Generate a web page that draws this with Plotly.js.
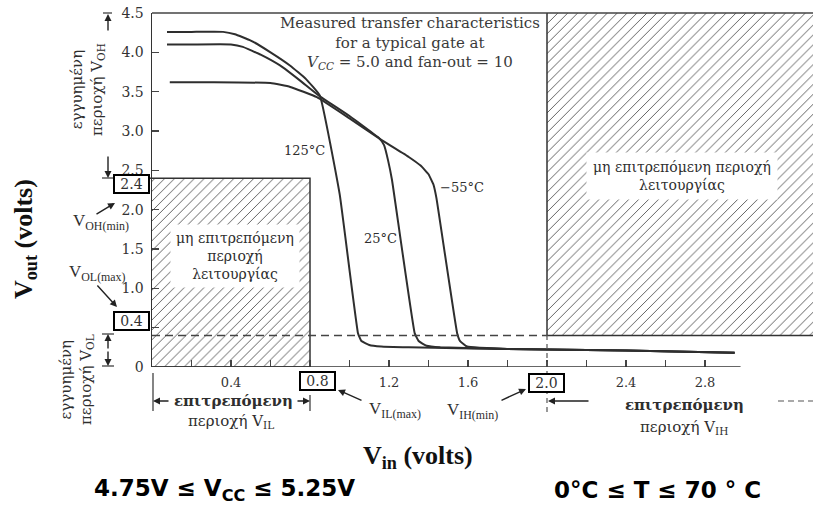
<!DOCTYPE html>
<html>
<head>
<meta charset="utf-8">
<script src="https://cdn.plot.ly/plotly-3.0.1.min.js"></script>
<style>html,body{margin:0;padding:0;background:#fff;}#chart{width:813px;height:510px;}</style>
</head>
<body>
<div id="chart"></div>
<script>
// ---- data ----
const vin125  = [0.076,0.20,0.36,0.42,0.50,0.60,0.70,0.78,0.85,0.95,1.043,1.06,1.10,1.16,1.30,1.80,2.40,2.95];
const vout125 = [4.26,4.26,4.26,4.23,4.15,4.00,3.83,3.66,3.45,2.20,0.43,0.33,0.28,0.26,0.25,0.23,0.21,0.18];
const vin25   = [0.076,0.20,0.40,0.46,0.55,0.65,0.75,0.85,1.00,1.15,1.175,1.195,1.215,1.33,1.35,1.39,1.46,1.80,2.40,2.95];
const vout25  = [4.10,4.10,4.10,4.07,3.97,3.83,3.64,3.44,3.19,2.91,2.82,2.63,2.38,0.43,0.33,0.27,0.25,0.23,0.21,0.18];
const vinM55  = [0.09,0.30,0.60,0.70,0.835,1.00,1.165,1.30,1.36,1.40,1.425,1.44,1.545,1.56,1.595,1.66,1.80,2.40,2.95];
const voutM55 = [3.62,3.62,3.61,3.56,3.43,3.16,2.88,2.67,2.56,2.45,2.32,2.15,0.43,0.33,0.26,0.245,0.23,0.21,0.18];
const curveNames = ['125°C','25°C','−55°C'];

// TTL specification levels
const VIL_MAX = 0.8, VIH_MIN = 2.0, VOL_MAX = 0.4, VOH_MIN = 2.4;
const VOUT_TOP = 4.5, VIN_RIGHT = 3.4;

// axis ticks
const yTickVals = [0,0.5,1.0,1.5,2.0,2.5,3.0,3.5,4.0,4.5];
const yTickText = ['0','','1.0','1.5','2.0','2.5','3.0','3.5','4.0','4.5'];
const xTickVals = [0.2,0.4,0.6,0.8,1.0,1.2,1.4,1.6,1.8,2.0,2.2,2.4,2.6,2.8];
const xTickText = ['','0.4','','','','1.2','','1.6','','','','2.4','','2.8'];

// ---- layout helpers (pixel -> paper) ----
const L = 152, T = 13, W = 661, H = 354;
const PX = p => (p - L) / W;
const PY = p => (T + H - p) / H;
const SERIF = 'DejaVu Serif', GR = 'DejaVu Serif', TIMES = 'Liberation Serif', INK = '#2e2e2e';

const hatch = {shape: '/', size: 7, solidity: 0.13, fgcolor: '#555', bgcolor: 'white', fillmode: 'replace'};

const traces = [
  {x: [0, VIL_MAX, VIL_MAX, 0], y: [VOH_MIN, VOH_MIN, 0, 0], type: 'scatter', mode: 'lines',
   fill: 'toself', fillcolor: 'white', fillpattern: hatch, line: {color: '#333', width: 1.5}, hoverinfo: 'skip'},
  {x: [VIH_MIN, VIH_MIN, VIN_RIGHT, VIN_RIGHT], y: [VOUT_TOP, VOL_MAX, VOL_MAX, VOUT_TOP], type: 'scatter', mode: 'lines',
   fill: 'toself', fillcolor: 'white', fillpattern: hatch, line: {color: '#333', width: 1.5}, hoverinfo: 'skip'},
  {x: vin125, y: vout125, name: curveNames[0], type: 'scatter', mode: 'lines', line: {color: INK, width: 2, shape: 'spline', smoothing: 0.3}},
  {x: vin25, y: vout25, name: curveNames[1], type: 'scatter', mode: 'lines', line: {color: INK, width: 2, shape: 'spline', smoothing: 0.3}},
  {x: vinM55, y: voutM55, name: curveNames[2], type: 'scatter', mode: 'lines', line: {color: INK, width: 2, shape: 'spline', smoothing: 0.3}}
];

const ann = [];
function txt(px, py, text, size, family, extra) {
  ann.push(Object.assign({xref: 'paper', yref: 'paper', x: PX(px), y: PY(py), text: text, showarrow: false,
    xanchor: 'center', yanchor: 'middle', font: {family: family || SERIF, size: size || 14, color: INK}}, extra || {}));
}
function arrow(tipx, tipy, tailx, taily, head) {
  ann.push({xref: 'paper', yref: 'paper', x: PX(tipx), y: PY(tipy), ax: tailx - tipx, ay: taily - tipy,
    axref: 'pixel', ayref: 'pixel', text: '', showarrow: true, arrowhead: head === undefined ? 2 : head,
    arrowsize: 1, arrowwidth: 1.4, arrowcolor: '#222'});
}
function box(px, py, text) {
  txt(px, py, text, 14, SERIF, {bgcolor: 'white', bordercolor: '#000', borderwidth: 2, borderpad: 1,
    width: 31, height: 14, align: 'center', valign: 'middle', font: {family: SERIF, size: 14, color: '#333'}});
}

// in-plot texts
txt(410, 43, 'Measured transfer characteristics<br>for a typical gate at<br><i>V<sub>CC</sub></i> = 5.0 and fan-out = 10', 15, SERIF, {font: {family: SERIF, size: 15, color: '#3a3a3a'}});
txt(304, 150, curveNames[0], 13);
txt(380, 238, curveNames[1], 13);
txt(462, 187, curveNames[2], 13);
txt(235, 256, 'μη επιτρεπόμενη<br>περιοχή<br>λειτουργίας', 14, GR, {bgcolor: 'white', borderpad: 5});
txt(682, 176, 'μη επιτρεπόμενη περιοχή<br>λειτουργίας', 14, GR, {bgcolor: 'white', borderpad: 6});

// boxed limit values
box(131, 184, '2.4');
box(131, 321, '0.4');
box(317, 381, '0.8');
box(546, 383, '2.0');

// pointer labels
txt(101, 222, 'V<sub>OH(min)</sub>', 17, TIMES);
arrow(115, 203, 95, 215);
txt(97, 273, 'V<sub>OL(max)</sub>', 17, TIMES);
arrow(117, 307, 96, 284);
txt(395, 410, 'V<sub>IL(max)</sub>', 17, TIMES);
arrow(338, 390, 363, 401);
txt(472, 411, 'V<sub>IH(min)</sub>', 17, TIMES);
arrow(526, 389, 500, 401);

// rotated guaranteed-region labels
txt(87, 90, 'εγγυημένη<br>περιοχή V<sub>OH</sub>', 15, GR, {textangle: -90});
txt(76, 380, 'εγγυημένη<br>περιοχή V<sub>OL</sub>', 15, GR, {textangle: -90});
arrow(108, 14, 108, 32);
arrow(108, 178, 108, 155);
arrow(108, 334, 108, 350);
arrow(108, 366, 108, 350);

// input ranges below the axis
txt(233, 401, '<b>επιτρεπόμενη</b>', 15, GR);
txt(231, 421, 'περιοχή V<sub>IL</sub>', 15, GR);
arrow(153, 401, 170, 401);
arrow(310, 401, 296, 401);
txt(684, 405, '<b>επιτρεπόμενη</b>', 15, GR);
txt(684, 428, 'περιοχή V<sub>IH</sub>', 15, GR);
arrow(548, 401, 590, 401);

// axis titles
txt(418, 457, '<b>V<sub>in</sub> (volts)</b>', 26, TIMES, {font: {family: TIMES, size: 26, color: '#111'}});
txt(25, 239, '<b>V<sub>out</sub> (volts)</b>', 26, TIMES, {textangle: -90, font: {family: TIMES, size: 26, color: '#111'}});

// operating conditions
txt(224, 490, '<b>4.75V ≤ V<sub>CC</sub> ≤ 5.25V</b>', 23, 'DejaVu Sans', {font: {family: 'DejaVu Sans', size: 23, color: '#000'}});
txt(657, 490, '<b>0°C ≤ T ≤ 70 ° C</b>', 23, 'DejaVu Sans', {font: {family: 'DejaVu Sans', size: 23, color: '#000'}});

const thin = {color: '#333', width: 1.2};
const shapes = [
  // top frame
  {type: 'line', xref: 'paper', yref: 'paper', x0: 0, x1: 1, y0: 1, y1: 1, line: {color: '#444', width: 1.5}},
  // x axis baseline
  {type: 'line', xref: 'x', yref: 'y', x0: 0, x1: 2.98, y0: 0, y1: 0, line: {color: '#333', width: 1.5}},
  // V_OL(max) dashed level
  {type: 'line', xref: 'x', yref: 'y', x0: 0, x1: VIH_MIN, y0: VOL_MAX, y1: VOL_MAX, line: {color: '#444', width: 1.4, dash: '8px,5px'}},
  // V_IH(min) dashed drop line
  {type: 'line', xref: 'x', yref: 'paper', x0: VIH_MIN, x1: VIH_MIN, y0: PY(412), y1: PY(335), line: {color: '#555', width: 1.2, dash: '5px,4px'}},
  // 2.4 level extended to its box
  {type: 'line', xref: 'paper', yref: 'y', x0: PX(148), x1: 0, y0: VOH_MIN, y1: VOH_MIN, line: {color: '#333', width: 1.5}},
  // small dimension ticks at left
  {type: 'line', xref: 'paper', yref: 'paper', x0: PX(103), x1: PX(112), y0: PY(13), y1: PY(13), line: thin},
  {type: 'line', xref: 'paper', yref: 'paper', x0: PX(102), x1: PX(114), y0: PY(178), y1: PY(178), line: thin},
  {type: 'line', xref: 'paper', yref: 'paper', x0: PX(102), x1: PX(114), y0: PY(334), y1: PY(334), line: thin},
  {type: 'line', xref: 'paper', yref: 'paper', x0: PX(102), x1: PX(114), y0: PY(366), y1: PY(366), line: thin},
  // V_IL range end bars
  {type: 'line', xref: 'paper', yref: 'paper', x0: PX(153), x1: PX(153), y0: PY(373), y1: PY(411), line: thin},
  {type: 'line', xref: 'paper', yref: 'paper', x0: PX(310), x1: PX(310), y0: PY(395), y1: PY(411), line: thin},
  // V_IH range continues to the right
  {type: 'line', xref: 'paper', yref: 'paper', x0: PX(778), x1: PX(813), y0: PY(401), y1: PY(401), line: {color: '#555', width: 1.2, dash: '6px,4px'}}
];

const layout = {
  width: 813, height: 510,
  margin: {l: L, r: 0, t: T, b: 510 - T - H, pad: 0},
  paper_bgcolor: 'white', plot_bgcolor: 'white',
  showlegend: false,
  xaxis: {range: [0, W / 197.5], showgrid: false, zeroline: false, showline: false,
    tickmode: 'array', tickvals: xTickVals, ticktext: xTickText, ticks: 'inside', ticklen: 7, tickwidth: 1.2, tickcolor: '#444',
    ticklabelstandoff: 6, tickfont: {family: SERIF, size: 13, color: '#333'}},
  yaxis: {range: [0, 4.5], showgrid: false, zeroline: false, showline: true, linecolor: '#333', linewidth: 1.5,
    tickmode: 'array', tickvals: yTickVals, ticktext: yTickText, ticks: 'inside', ticklen: 7, tickwidth: 1.2, tickcolor: '#444',
    ticklabelstandoff: 4, tickfont: {family: SERIF, size: 14, color: '#333'}},
  annotations: ann,
  shapes: shapes
};

Plotly.newPlot('chart', traces, layout, {staticPlot: true, displayModeBar: false});
</script>
</body>
</html>
